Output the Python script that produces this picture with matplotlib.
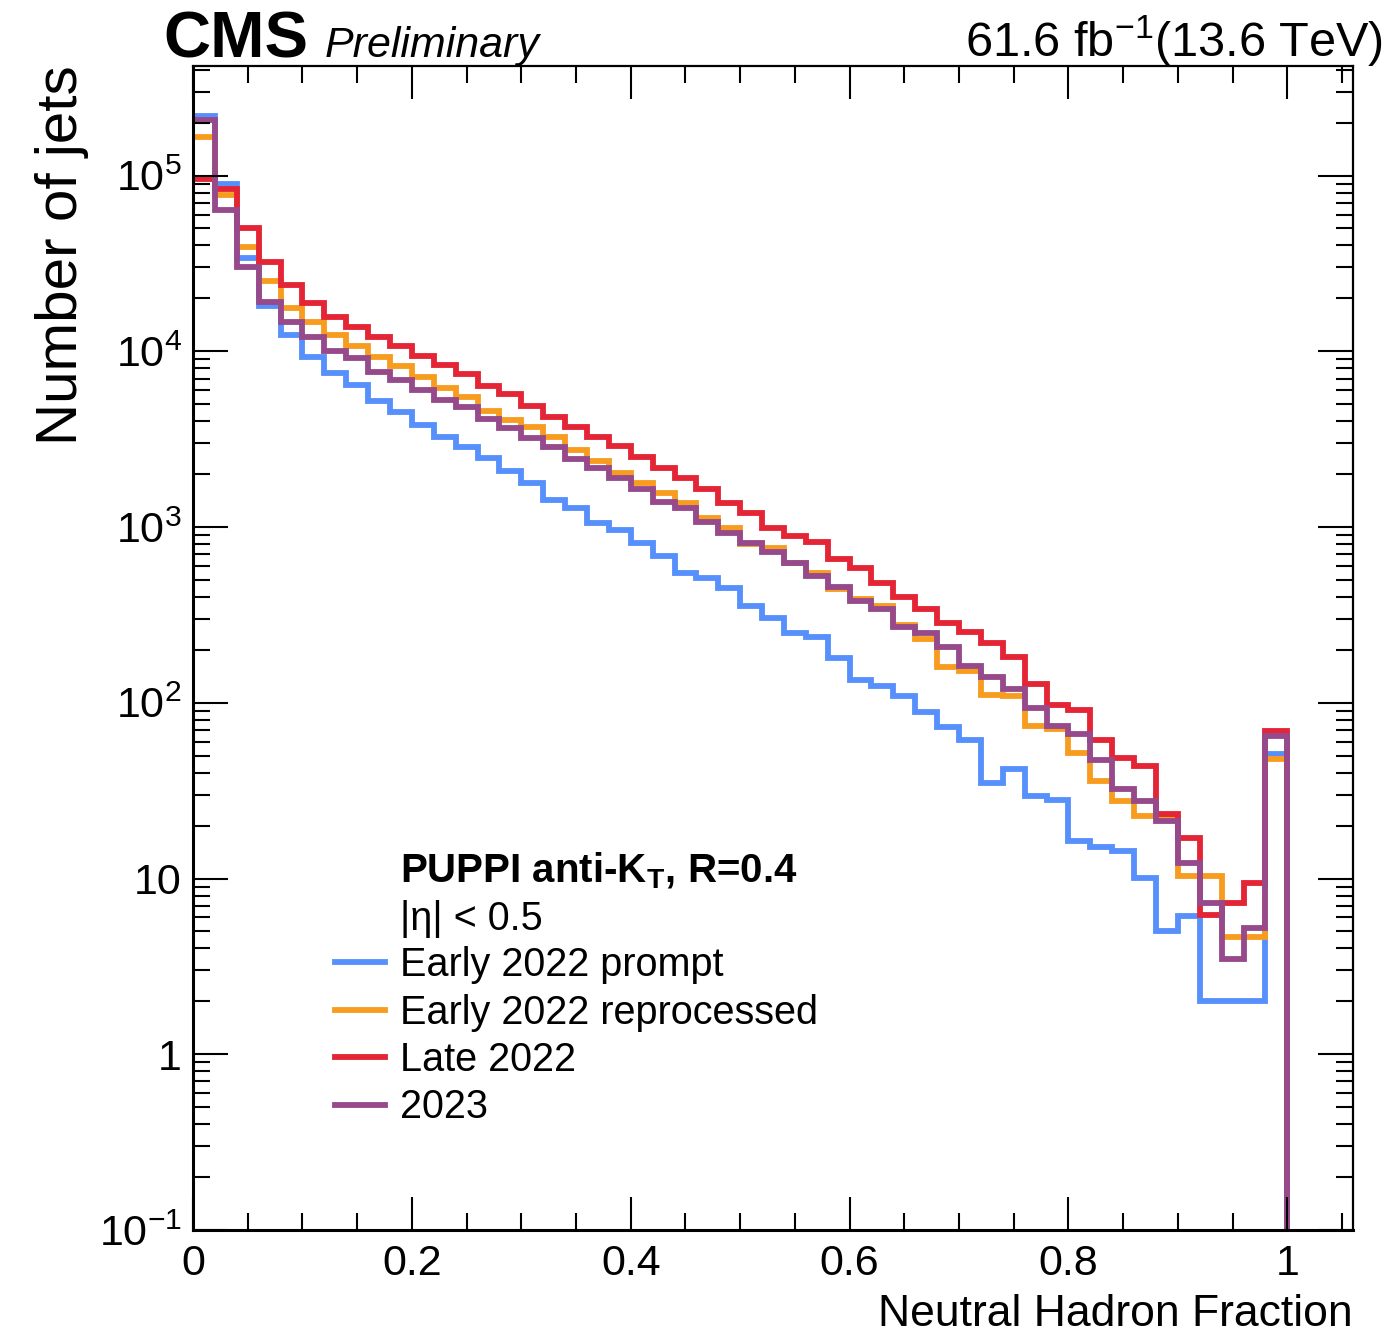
import numpy as np
import matplotlib
matplotlib.use("Agg")
import matplotlib.pyplot as plt
from matplotlib.ticker import FixedLocator, FixedFormatter, LogLocator, NullFormatter, MultipleLocator
from matplotlib.lines import Line2D

plt.rcParams['font.family'] = ['Liberation Sans', 'DejaVu Sans']
plt.rcParams['mathtext.fontset'] = 'custom'
plt.rcParams['mathtext.rm'] = 'Liberation Sans'
plt.rcParams['mathtext.it'] = 'Liberation Sans:italic'
plt.rcParams['mathtext.bf'] = 'Liberation Sans:bold'

# ---- data (bins of 0.02 from 0 to 1.06) ----
bin_edges = np.round(np.arange(0, 1.0601, 0.02), 4)

early2022_prompt = [2.19e5, 8.9e4, 3.4e4, 1.8e4, 1.23e4, 9.3e3, 7.5e3, 6.4e3, 5.2e3, 4.5e3,
                    3.8e3, 3.26e3, 2.86e3, 2.46e3, 2.09e3, 1.77e3, 1.42e3, 1.29e3, 1.05e3, 962,
                    807, 684, 550, 511, 449, 356, 303, 251, 238, 180,
                    134, 125, 109, 89, 73, 61, 35, 42, 29.6, 27.9,
                    16.3, 15.1, 14.3, 10.1, 5.0, 6.1, 2.0, 2.0, 2.0, 51,
                    0, 0, 0]
early2022_reproc = [1.66e5, 7.7e4, 3.9e4, 2.5e4, 1.77e4, 1.46e4, 1.23e4, 1.07e4, 9.3e3, 8.2e3,
                    7.1e3, 6.2e3, 5.5e3, 4.6e3, 4.06e3, 3.72e3, 3.24e3, 2.74e3, 2.38e3, 2.03e3,
                    1.77e3, 1.57e3, 1.37e3, 1.12e3, 984, 800, 757, 622, 546, 443,
                    388, 356, 277, 230, 160, 151, 110, 109, 74, 71,
                    52, 36, 27.5, 22.6, 22, 10.3, 10.3, 4.66, 4.66, 48,
                    0, 0, 0]
late2022 = [9.5e4, 8.4e4, 5.0e4, 3.2e4, 2.37e4, 1.88e4, 1.57e4, 1.37e4, 1.2e4, 1.07e4,
            9.4e3, 8.3e3, 7.4e3, 6.35e3, 5.75e3, 4.87e3, 4.24e3, 3.72e3, 3.26e3, 2.89e3,
            2.5e3, 2.16e3, 1.89e3, 1.64e3, 1.37e3, 1.2e3, 984, 889, 826, 655,
            582, 479, 402, 341, 284, 254, 220, 183, 128, 97,
            91, 61, 48.5, 43.5, 23.2, 17, 6.2, 7.3, 9.4, 69,
            0, 0, 0]
y2023 = [2.07e5, 6.4e4, 3.0e4, 1.9e4, 1.46e4, 1.21e4, 1.01e4, 9.2e3, 7.6e3, 6.9e3,
         6.0e3, 5.3e3, 4.8e3, 4.1e3, 3.64e3, 3.19e3, 2.86e3, 2.43e3, 2.16e3, 1.89e3,
         1.64e3, 1.39e3, 1.28e3, 1.07e3, 929, 807, 725, 622, 527, 458,
         377, 341, 269, 249, 209, 162, 140, 119, 93, 74,
         66, 47, 32.5, 27.5, 21.2, 12.2, 7.3, 3.5, 5.25, 65,
         0, 0, 0]

series_labels = ["Early 2022 prompt", "Early 2022 reprocessed", "Late 2022", "2023"]
series_colors = ["#5790fc", "#f89c20", "#e42536", "#964a8b"]
series_values = [early2022_prompt, early2022_reproc, late2022, y2023]

xtick_values = [0, 0.2, 0.4, 0.6, 0.8, 1.0]
xtick_labels = ["0", "0.2", "0.4", "0.6", "0.8", "1"]
ytick_values = [1e-1, 1, 10, 1e2, 1e3, 1e4, 1e5]
ytick_labels = [r"$10^{-1}$", "1", "10", r"$10^{2}$", r"$10^{3}$", r"$10^{4}$", r"$10^{5}$"]

# ---- figure ----
W, H = 1389, 1336
fig = plt.figure(figsize=(W / 100, H / 100), dpi=100)
ax = fig.add_axes([193 / W, 1 - 1230 / H, (1353 - 193) / W, (1230 - 66) / H])

LW = 4.2
for vals, col in zip(series_values, series_colors):
    ax.stairs(np.array(vals, dtype=float), bin_edges, color=col, lw=LW, baseline=None)

ax.set_yscale('log')
ax.set_xlim(0, 1.06)
ax.set_ylim(0.1, 4.2e5)

# ticks
ax.xaxis.set_major_locator(FixedLocator(xtick_values))
ax.xaxis.set_major_formatter(FixedFormatter(xtick_labels))
ax.xaxis.set_minor_locator(MultipleLocator(0.05))

ax.yaxis.set_major_locator(FixedLocator(ytick_values))
ax.yaxis.set_major_formatter(FixedFormatter(ytick_labels))
ax.yaxis.set_minor_locator(LogLocator(base=10, subs=np.arange(2, 10), numticks=20))
ax.yaxis.set_minor_formatter(NullFormatter())

ax.tick_params(axis='both', which='both', direction='in', top=True, right=True,
               labelsize=31, width=1.5, colors='black')
ax.tick_params(axis='x', which='major', length=24, pad=10)
ax.tick_params(axis='x', which='minor', length=12)
ax.tick_params(axis='y', which='major', length=25, pad=8)
ax.tick_params(axis='y', which='minor', length=12)
for name, sp in ax.spines.items():
    sp.set_linewidth(2.2 if name in ('left', 'bottom') else 1.6)

# axis titles
fig.text(1353 / W, 1 - 1326 / H, "Neutral Hadron Fraction", ha='right', va='baseline', fontsize=32)
fig.text(62 / W, 1 - 65 / H, "Number of jets", ha='center', va='top', rotation=90, fontsize=42)

# header
fig.text(163 / W, 1 - 58 / H, "CMS", ha='left', va='baseline', fontsize=47, fontweight='bold')
fig.text(325 / W, 1 - 57 / H, "Preliminary", ha='left', va='baseline', fontsize=31, fontstyle='italic')
fig.text(1383 / W, 1 - 57 / H, r"61.6 fb$^{-1}$(13.6 TeV)", ha='right', va='baseline', fontsize=35)

# legend header texts
fig.text(400 / W, 1 - 882 / H, r"PUPPI anti-K$_{\mathbf{T}}$, R=0.4", ha='left', va='baseline',
         fontsize=29, fontweight='bold')
fig.text(400 / W, 1 - 930 / H, "|η| < 0.5", ha='left', va='baseline', fontsize=28.5)

handles = [Line2D([], [], color=c, lw=LW) for c in series_colors]
leg = ax.legend(handles, series_labels, loc='upper left',
                bbox_to_anchor=(335 / W, 1 - 946 / H), bbox_transform=fig.transFigure,
                frameon=False, fontsize=28.5, handlelength=1.26, handletextpad=0.38,
                labelspacing=0.24, borderpad=0, borderaxespad=0)

fig.savefig("out.png", dpi=100)
